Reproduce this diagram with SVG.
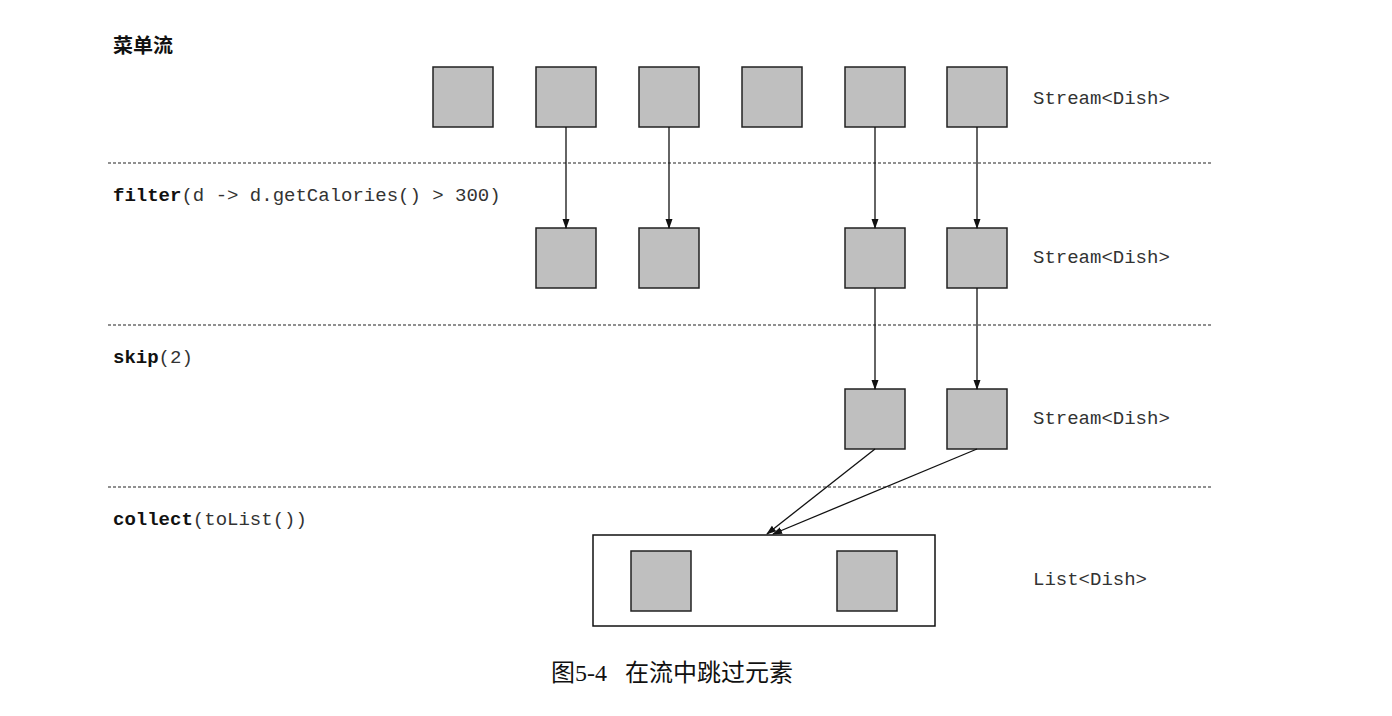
<svg xmlns="http://www.w3.org/2000/svg" width="1392" height="716" viewBox="0 0 1392 716">
<style>
.b{fill:#bfbfbf;stroke:#222;stroke-width:1.5}
.d{stroke:#222;stroke-width:1.2;stroke-dasharray:3,2}
.m{font-family:"Liberation Mono",monospace;font-size:19px;fill:#333}
.mb{font-weight:bold;fill:#111}
.c{stroke:#111;stroke-width:1.3;fill:none;marker-end:url(#a)}
</style>
<defs><marker id="a" markerWidth="10" markerHeight="10" refX="9" refY="5" orient="auto" markerUnits="userSpaceOnUse"><path d="M0,1.5 L10,5 L0,8.5 Z" fill="#111"/></marker></defs>
<rect width="1392" height="716" fill="#fff"/>
<text x="113" y="53" font-family="Noto Sans CJK SC,sans-serif" font-size="20" font-weight="bold" fill="#111">菜单流</text>
<line class="d" x1="108" y1="163" x2="1211" y2="163"/>
<line class="d" x1="108" y1="325" x2="1211" y2="325"/>
<line class="d" x1="108" y1="487" x2="1211" y2="487"/>
<text class="m" x="113" y="201"><tspan class="mb">filter</tspan>(d -&gt; d.getCalories() &gt; 300)</text>
<text class="m" x="113" y="363"><tspan class="mb">skip</tspan>(2)</text>
<text class="m" x="113" y="525"><tspan class="mb">collect</tspan>(toList())</text>
<text class="m" x="1033" y="104">Stream&lt;Dish&gt;</text>
<text class="m" x="1033" y="263">Stream&lt;Dish&gt;</text>
<text class="m" x="1033" y="424">Stream&lt;Dish&gt;</text>
<text class="m" x="1033" y="585">List&lt;Dish&gt;</text>
<g id="row1"><rect class="b" x="433" y="67" width="60" height="60"/><rect class="b" x="536" y="67" width="60" height="60"/><rect class="b" x="639" y="67" width="60" height="60"/><rect class="b" x="742" y="67" width="60" height="60"/><rect class="b" x="845" y="67" width="60" height="60"/><rect class="b" x="947" y="67" width="60" height="60"/></g>
<g id="row2"><rect class="b" x="536" y="228" width="60" height="60"/><rect class="b" x="639" y="228" width="60" height="60"/><rect class="b" x="845" y="228" width="60" height="60"/><rect class="b" x="947" y="228" width="60" height="60"/></g>
<g id="row3"><rect class="b" x="845" y="389" width="60" height="60"/><rect class="b" x="947" y="389" width="60" height="60"/></g>
<g id="list"><rect x="593" y="535" width="342" height="91" fill="none" stroke="#111" stroke-width="1.5"/><rect class="b" x="631" y="551" width="60" height="60"/><rect class="b" x="837" y="551" width="60" height="60"/></g>
<g id="connectors">
<line class="c" x1="566" y1="127" x2="566" y2="228"/>
<line class="c" x1="669" y1="127" x2="669" y2="228"/>
<line class="c" x1="875" y1="127" x2="875" y2="228"/>
<line class="c" x1="977" y1="127" x2="977" y2="228"/>
<line class="c" x1="875" y1="288" x2="875" y2="389"/>
<line class="c" x1="977" y1="288" x2="977" y2="389"/>
<line class="c" x1="875" y1="449" x2="767" y2="534"/>
<line class="c" x1="977" y1="449" x2="773" y2="534"/>
</g>
<text x="672" y="681" text-anchor="middle" font-family="Liberation Serif,Noto Sans CJK SC,serif" font-size="24" fill="#111" xml:space="preserve">图5-4   在流中跳过元素</text>
</svg>
